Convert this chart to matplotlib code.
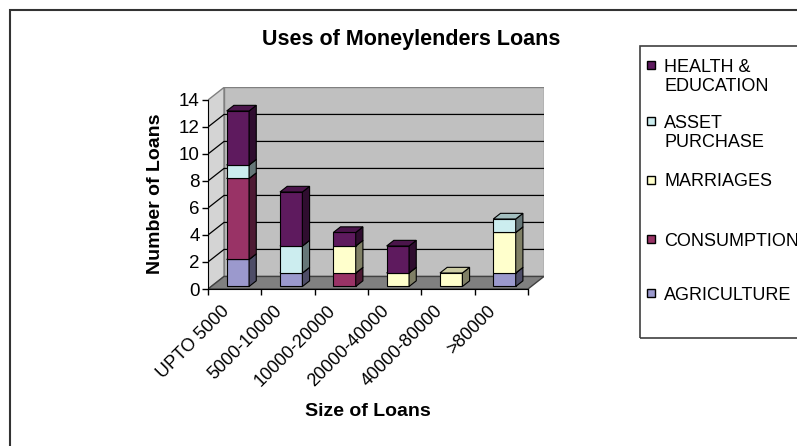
import matplotlib
matplotlib.use("Agg")
import matplotlib.pyplot as plt
from matplotlib.patches import Polygon, Rectangle
import numpy as np

plt.rcParams["font.family"] = ["Liberation Sans", "DejaVu Sans"]

# datos del grafico
categories = ["UPTO 5000", "5000-10000", "10000-20000", "20000-40000", "40000-80000", ">80000"]
series_names = ["AGRICULTURE", "CONSUMPTION", "MARRIAGES", "ASSET\nPURCHASE", "HEALTH &\nEDUCATION"]
agriculture = [2, 1, 0, 0, 0, 1]
consumption = [6, 0, 1, 0, 0, 0]
marriages = [0, 0, 2, 1, 1, 3]
asset_purchase = [1, 2, 0, 0, 0, 1]
health_education = [4, 4, 1, 2, 0, 0]
y_ticks = [0, 2, 4, 6, 8, 10, 12, 14]

series = [agriculture, consumption, marriages, asset_purchase, health_education]
colors = ["#9B99CD", "#993366", "#FFFFCC", "#CCEDEF", "#5E1A5E"]


def shade(c, f):
    r, g, b = matplotlib.colors.to_rgb(c)
    return (r * f, g * f, b * f)


W, H = 797, 446
fig = plt.figure(figsize=(W / 100, H / 100), dpi=100)

# profundidad de la caja 3D (unidades de datos)
DX, DY = 0.30, 0.93
Z0, Z1 = 0.2, 0.65
BW = 0.42
ymax = 14
n = len(categories)

ax = fig.add_axes([208 / W, (H - 289) / H, (n + DX) * 53.33 / W, (ymax + DY) * 13.5 / H])
ax.set_xlim(0, n + DX)
ax.set_ylim(0, ymax + DY)
ax.patch.set_visible(False)

# paredes
ax.add_patch(Polygon([(DX, DY), (n + DX, DY), (n + DX, ymax + DY), (DX, ymax + DY)],
                     closed=True, facecolor="#C0C0C0", edgecolor="#808080", lw=1, zorder=0))
ax.add_patch(Polygon([(0, 0), (DX, DY), (DX, ymax + DY), (0, ymax)],
                     closed=True, facecolor="#D4D4D4", edgecolor="#808080", lw=1, zorder=0))
for v in y_ticks[1:-1]:
    ax.plot([0, DX, n + DX], [v, v + DY, v + DY], color="black", lw=0.9, zorder=1)
# suelo
ax.add_patch(Polygon([(0, 0), (n, 0), (n + DX, DY), (DX, DY)],
                     closed=True, facecolor="#808080", edgecolor="#404040", lw=1, zorder=2))

# barras apiladas
ddx, ddy = (Z1 - Z0) * DX, (Z1 - Z0) * DY
for i in range(n):
    bottom = 0
    for vals, col in zip(series, colors):
        v = vals[i]
        if v == 0:
            continue
        x0 = i + 0.5 - BW / 2 + Z0 * DX
        y0 = bottom + Z0 * DY
        ax.bar(x0, v, width=BW, bottom=y0, align="edge", color=col,
               edgecolor="black", lw=0.8, zorder=3)
        ax.add_patch(Polygon([(x0 + BW, y0), (x0 + BW + ddx, y0 + ddy),
                              (x0 + BW + ddx, y0 + v + ddy), (x0 + BW, y0 + v)],
                             closed=True, facecolor=shade(col, 0.5), edgecolor="black", lw=0.8, zorder=3))
        ax.add_patch(Polygon([(x0, y0 + v), (x0 + BW, y0 + v),
                              (x0 + BW + ddx, y0 + v + ddy), (x0 + ddx, y0 + v + ddy)],
                             closed=True, facecolor=shade(col, 0.8), edgecolor="black", lw=0.8, zorder=3))
        bottom += v

# ejes
for s in ["top", "right"]:
    ax.spines[s].set_visible(False)
ax.spines["left"].set_bounds(0, ymax)
ax.spines["bottom"].set_bounds(0, n)
ax.spines["left"].set_zorder(4)
ax.spines["bottom"].set_zorder(4)

ax.set_yticks(y_ticks)
ax.set_yticklabels([str(t) for t in y_ticks], fontsize=13.5)
ax.tick_params(axis="y", length=4, width=1, pad=2)

ax.set_xticks(np.arange(n) + 0.35)
ax.set_xticklabels(categories, rotation=45, ha="right", va="center",
                   rotation_mode="anchor", fontsize=13)
ax.set_xticks(np.arange(n + 1), minor=True)
ax.tick_params(axis="x", which="major", length=0, pad=14)
ax.tick_params(axis="x", which="minor", length=4, width=1)

# titulos
fig.text(262 / W, 1 - 40 / H, "Uses of Moneylenders Loans", fontsize=15.5, fontweight="bold",
         ha="left", va="center")
fig.text(155 / W, 1 - 194 / H, "Number of Loans", fontsize=14, fontweight="bold",
         rotation=90, ha="center", va="center")
fig.text(368 / W, 1 - 411 / H, "Size of Loans", fontsize=14, fontweight="bold",
         ha="center", va="center")

# leyenda
fig.patches.append(Rectangle((640 / W, 1 - 338 / H), 300 / W, 292 / H, transform=fig.transFigure,
                             fill=False, edgecolor="#404040", lw=1.2))
legend_y = [293, 239, 180, 121, 65]
for name, col, ly in zip(series_names, colors, legend_y):
    fig.patches.append(Rectangle((647 / W, 1 - (ly + 4) / H), 8 / W, 8 / H, transform=fig.transFigure,
                                 facecolor=col, edgecolor="black", lw=1))
    fig.text(664 / W, 1 - (ly - 6.5) / H, name, fontsize=13, ha="left", va="top", linespacing=1.2)

# marco exterior
fig.patches.append(Rectangle((10 / W, -0.1), 2, (H - 10) / H + 0.1, transform=fig.transFigure,
                             fill=False, edgecolor="#333333", lw=1.5))

plt.savefig("out.png", dpi=100)
